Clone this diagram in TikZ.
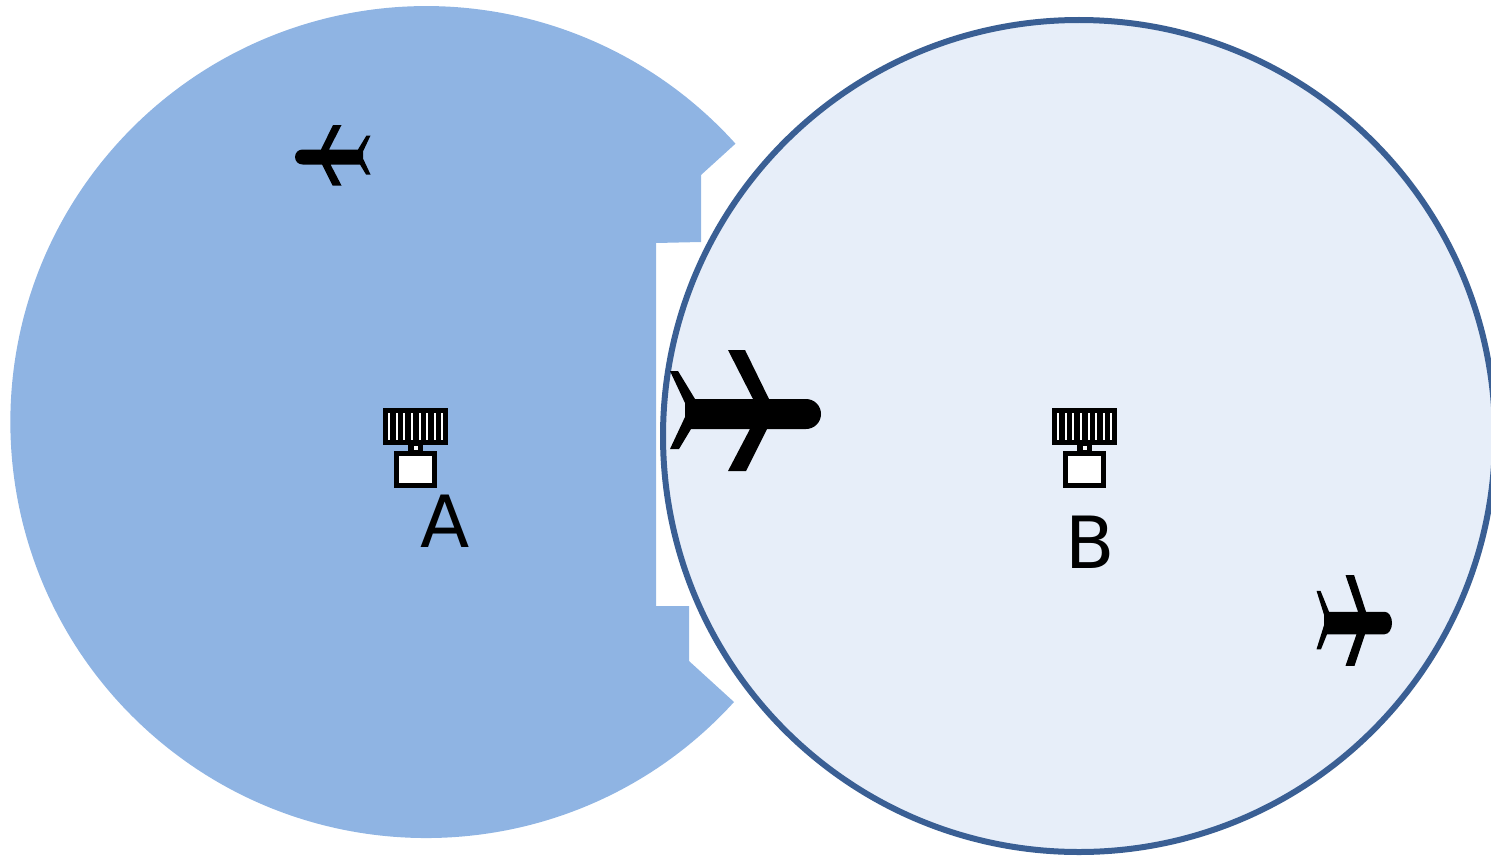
\documentclass[tikz,border=0pt]{standalone}
\usepackage{fontspec}
\setmainfont{DejaVu Sans}
\definecolor{coverA}{HTML}{8FB4E3}
\definecolor{coverB}{HTML}{E7EEF9}
\definecolor{rimB}{HTML}{3A5F94}
\tikzset{
  plane/.pic={
    \fill[black] (-75,-43) -- (-67,-43) -- (-50,-15) -- (8,-15) -- (-17,-64) -- (0,-64) -- (24,-15)
      -- (61,-15) arc[start angle=90,end angle=-90,radius=7.5pt]
      -- (22,15) -- (1,57) -- (-17,57) -- (5,15) -- (-54,15) -- (-66,35) -- (-75,35)
      -- (-60,3) -- (-60,-11) -- cycle;
  },
  radar/.pic={
    % antenna
    \fill[black] (0,0) rectangle (65,37);
    \foreach \slit in {6,13.5,21,29,36.5,44,52,59}
      \fill[white] (\slit-1,5) rectangle (\slit+1,32);
    % neck
    \fill[black] (25,37) rectangle (40,44);
    \fill[white] (30.5,38) rectangle (34.5,41.5);
    % cabin
    \fill[black] (11,43) rectangle (54,80);
    \fill[white] (16,48) rectangle (49,75);
  },
  sitelabel/.style={font=\fontsize{36pt}{36pt}\selectfont, text=black, inner sep=0pt}
}
\begin{document}
\begin{tikzpicture}[x=0.5pt,y=-0.5pt]
\clip[use as bounding box] (0,0) rectangle (1491,856);

% Coverage A
\fill[coverA] (734,702) arc[start angle=-42.3,end angle=-318,radius=208pt]
  -- (701,175) -- (701,242) -- (656,243) -- (656,606) -- (689,606) -- (689,661) -- cycle;

% Coverage B
\draw[rimB, fill=coverB, line width=3pt] (1079,436) circle (208pt);

% Radars
\pic at (383,408) {radar};
\pic at (1052,408) {radar};
\node[sitelabel] (labelA) at (445,521) {A};
\node[sitelabel] (labelB) at (1090,542) {B};

% Aircraft
\pic[rotate=180, xscale=0.5, yscale=-0.5] at (333,157) {plane};
\pic at (745,414) {plane};
\pic[xscale=0.5, yscale=0.75] at (1354,623) {plane};
\end{tikzpicture}
\end{document}
